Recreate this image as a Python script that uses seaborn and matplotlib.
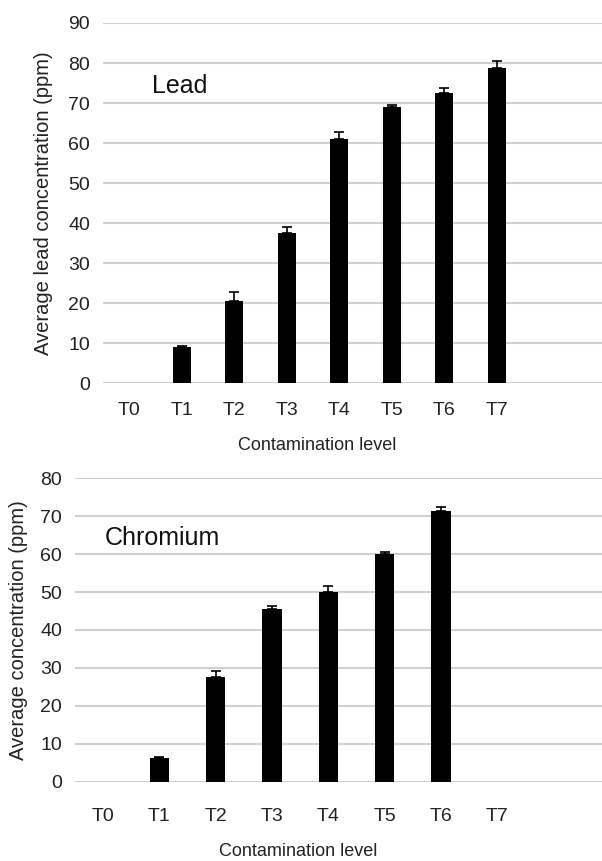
import pandas as pd
import matplotlib
matplotlib.use("Agg")
import matplotlib.pyplot as plt
import seaborn as sns

# Dados
levels = ["T0", "T1", "T2", "T3", "T4", "T5", "T6", "T7"]
lead_mean = [0, 9.0, 20.5, 37.5, 61.0, 69.0, 72.5, 78.7]
lead_err = [0, 0.3, 2.3, 1.5, 1.8, 0.6, 1.3, 1.7]
chrom_mean = [0, 6.2, 27.7, 45.6, 50.1, 60.0, 71.3, 0]
chrom_err = [0, 0.3, 1.5, 0.8, 1.5, 0.5, 1.0, 0]

df_lead = pd.DataFrame({"level": levels, "mean": lead_mean, "err": lead_err})
df_chrom = pd.DataFrame({"level": levels, "mean": chrom_mean, "err": chrom_err})

sns.set_style("white")
plt.rcParams["font.family"] = ["Liberation Sans", "DejaVu Sans"]

fig = plt.figure(figsize=(6.02, 8.61), dpi=100)
ax1 = fig.add_axes([0.1711, 0.5548, 0.8289, 0.4185])
ax2 = fig.add_axes([0.1246, 0.0921, 0.8754, 0.3524])


def painel(ax, df, ymax, xmax, label, ylabel, txt_xy, xl_coords, yl_coords, xpad):
    sns.barplot(data=df, x="level", y="mean", color="black", width=0.34,
                saturation=1, errorbar=None, linewidth=0, ax=ax, zorder=3)
    mask = df["err"] > 0
    ax.errorbar(df.index[mask], df["mean"][mask],
                yerr=[[0] * mask.sum(), df["err"][mask]],
                fmt="none", ecolor="black", elinewidth=1.2, capsize=3.8,
                capthick=1.2, zorder=4)
    ax.set_ylim(0, ymax)
    ax.set_xlim(-0.5, xmax)
    ax.set_yticks(range(0, ymax + 1, 10))
    ax.yaxis.grid(True, color="#d0d0d0", linewidth=1.5, zorder=0)
    ax.set_axisbelow(True)
    for s in ax.spines.values():
        s.set_visible(False)
    ax.tick_params(axis="both", length=0, labelsize=14, colors="#222222")
    ax.tick_params(axis="x", pad=xpad)
    ax.tick_params(axis="y", pad=9.4)
    ax.set_xlabel("Contamination level", fontsize=13, color="#222222")
    ax.set_ylabel(ylabel, fontsize=14.5, color="#222222")
    ax.xaxis.set_label_coords(*xl_coords)
    ax.yaxis.set_label_coords(*yl_coords)
    ax.text(txt_xy[0], txt_xy[1], label, fontsize=18, ha="left",
            va="center", color="#111111")


painel(ax1, df_lead, 90, 9.0, "Lead", "Average lead concentration (ppm)",
       (0.43, 74.3), (0.429, -0.15), (-0.10, 0.5), 13.5)
painel(ax2, df_chrom, 80, 8.86, "Chromium", "Average concentration (ppm)",
       (0.03, 64.3), (0.423, -0.202), (-0.089, 0.5), 19.0)

plt.savefig("out.png", dpi=100)
plt.close()
